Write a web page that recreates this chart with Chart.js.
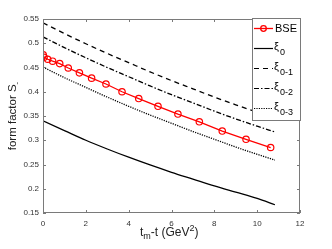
<!DOCTYPE html>
<html>
<head>
<meta charset="UTF-8">
<title>form factor S-</title>
<style>
    body { margin: 0; background: #fff; }
    #wrap { width: 332px; height: 249px; }
</style>
</head>
<body>
<div id="wrap"><canvas id="c" width="332" height="249"></canvas></div>
<script src="https://cdn.jsdelivr.net/npm/chart.js"></script>
<script>
// BSE points
const bseT = [0.01, 0.05, 0.22, 0.45, 0.78, 1.18, 1.70, 2.27, 2.94, 3.69, 4.47, 5.37, 6.30, 7.30, 8.37, 9.48, 10.63];
const bseS = [0.476, 0.471, 0.467, 0.463, 0.458, 0.449, 0.439, 0.428, 0.416, 0.400, 0.386, 0.370, 0.354, 0.338, 0.319, 0.302, 0.285];

// xi curves, read at these t values
const curveT = [0, 1, 2, 3, 4, 5, 6, 7, 8, 9, 10, 10.83];
const xi0   = [0.340, 0.320, 0.300, 0.282, 0.265, 0.249, 0.234, 0.220, 0.206, 0.193, 0.180, 0.167];
const xi01  = [0.542, 0.520, 0.499, 0.479, 0.460, 0.441, 0.423, 0.406, 0.389, 0.373, 0.358, 0.346];
const xi02  = [0.513, 0.491, 0.470, 0.450, 0.431, 0.412, 0.394, 0.377, 0.360, 0.344, 0.329, 0.317];
const xi03  = [0.451, 0.429, 0.409, 0.389, 0.370, 0.352, 0.335, 0.318, 0.302, 0.286, 0.271, 0.259];

const xTicks = [0, 2, 4, 6, 8, 10, 12];
const yTicks = [0.15, 0.2, 0.25, 0.3, 0.35, 0.4, 0.45, 0.5, 0.55];

const pts = (xs, ys) => xs.map((x, i) => ({ x: x, y: ys[i] }));

const legendItems = [
    { main: 'BSE', sub: '', color: '#ff0000', dash: [], marker: true },
    { main: 'ξ', sub: '0', color: '#000', dash: [] },
    { main: 'ξ', sub: '0-1', color: '#000', dash: [5, 4] },
    { main: 'ξ', sub: '0-2', color: '#000', dash: [5, 2, 1.5, 2] },
    { main: 'ξ', sub: '0-3', color: '#000', dash: [1.2, 1.2] }
];

const FONT = 'Liberation Sans, Arial, sans-serif';

const decor = {
    id: 'decor',
    afterDraw(chart) {
        const ctx = chart.ctx;
        const a = chart.chartArea;
        const xs = chart.scales.x, ys = chart.scales.y;
        ctx.save();
        // box
        ctx.strokeStyle = '#7a7a7a';
        ctx.lineWidth = 1;
        ctx.strokeRect(a.left + 0.5, a.top + 0.5, a.right - a.left - 1, a.bottom - a.top - 1);
        // inward ticks
        ctx.beginPath();
        xTicks.forEach(v => {
            const p = Math.round(xs.getPixelForValue(v)) + 0.5;
            ctx.moveTo(p, a.bottom); ctx.lineTo(p, a.bottom - 3);
            ctx.moveTo(p, a.top); ctx.lineTo(p, a.top + 3);
        });
        yTicks.forEach(v => {
            const p = Math.round(ys.getPixelForValue(v)) + 0.5;
            ctx.moveTo(a.left, p); ctx.lineTo(a.left + 3, p);
            ctx.moveTo(a.right, p); ctx.lineTo(a.right - 3, p);
        });
        ctx.stroke();

        // legend
        const lx = 252, ly = 18, lw = 48, lh = 102;
        ctx.fillStyle = '#fff';
        ctx.fillRect(lx, ly, lw, lh);
        ctx.strokeStyle = '#7a7a7a';
        ctx.strokeRect(lx + 0.5, ly + 0.5, lw, lh);
        legendItems.forEach((it, i) => {
            const cy = 28.5 + i * 20;
            ctx.strokeStyle = it.color;
            ctx.lineWidth = it.marker ? 1.3 : 1.2;
            ctx.setLineDash(it.dash);
            ctx.beginPath();
            ctx.moveTo(254, cy); ctx.lineTo(273, cy);
            ctx.stroke();
            ctx.setLineDash([]);
            if (it.marker) {
                ctx.beginPath();
                ctx.arc(263.5, cy, 2.8, 0, Math.PI * 2);
                ctx.stroke();
            }
            ctx.fillStyle = '#000';
            ctx.textBaseline = 'middle';
            ctx.textAlign = 'left';
            if (it.sub) {
                ctx.font = '11px ' + FONT;
                ctx.fillText(it.main, 274, cy - 2);
                ctx.font = '9px ' + FONT;
                ctx.fillText(it.sub, 280, cy + 4);
            } else {
                ctx.font = '11px ' + FONT;
                ctx.fillText(it.main, 275, cy);
            }
        });

        // axis titles
        ctx.fillStyle = '#222';
        ctx.textBaseline = 'alphabetic';
        ctx.font = '12px ' + FONT;
        // x title: t_m-t (GeV^2)
        let x = 140, y = 236;
        ctx.fillText('t', x, y); x += ctx.measureText('t').width;
        ctx.font = '9px ' + FONT;
        ctx.fillText('m', x, y + 3); x += ctx.measureText('m').width;
        ctx.font = '12px ' + FONT;
        ctx.fillText('-t (GeV', x, y); x += ctx.measureText('-t (GeV').width;
        ctx.font = '9px ' + FONT;
        ctx.fillText('2', x, y - 5); x += ctx.measureText('2').width;
        ctx.font = '12px ' + FONT;
        ctx.fillText(')', x, y);

        // y title: form factor S_-
        ctx.translate(16, 116);
        ctx.rotate(-Math.PI / 2);
        ctx.font = '11.5px ' + FONT;
        const main = 'form factor S';
        const w = ctx.measureText(main).width;
        ctx.font = '8px ' + FONT;
        const ws = ctx.measureText('-').width;
        const start = -(w + ws) / 2;
        ctx.font = '11.5px ' + FONT;
        ctx.fillText(main, start, 0);
        ctx.font = '8px ' + FONT;
        ctx.fillText('-', start + w, 3);
        ctx.restore();
    }
};

const lineDs = (label, data, dash) => ({
    label: label,
    data: data,
    borderColor: '#000',
    borderWidth: 1.3,
    borderDash: dash,
    pointRadius: 0,
    showLine: true,
    cubicInterpolationMode: 'monotone'
});

new Chart(document.getElementById('c').getContext('2d'), {
    type: 'scatter',
    data: {
        datasets: [
            lineDs('ξ0', pts(curveT, xi0), []),
            lineDs('ξ0-1', pts(curveT, xi01), [5, 4]),
            lineDs('ξ0-2', pts(curveT, xi02), [5, 2, 1.5, 2]),
            lineDs('ξ0-3', pts(curveT, xi03), [1.2, 1.2]),
            {
                label: 'BSE',
                data: pts(bseT, bseS),
                borderColor: '#ff0000',
                borderWidth: 1.3,
                showLine: true,
                pointRadius: 3.2,
                pointBorderWidth: 1.2,
                pointBackgroundColor: 'rgba(0,0,0,0)',
                pointBorderColor: '#ff0000'
            }
        ]
    },
    options: {
        responsive: false,
        animation: false,
        events: [],
        layout: { padding: { left: 0, right: 32, top: 19, bottom: 0 } },
        plugins: { legend: { display: false }, tooltip: { enabled: false } },
        scales: {
            x: {
                type: 'linear', min: 0, max: 12,
                afterBuildTicks: s => { s.ticks = xTicks.map(v => ({ value: v })); },
                afterFit: s => { s.height = 36; },
                grid: { display: false, drawTicks: false },
                border: { display: false },
                ticks: { padding: 6, color: '#333', font: { size: 8, family: FONT }, maxRotation: 0 }
            },
            y: {
                type: 'linear', min: 0.15, max: 0.55,
                afterBuildTicks: s => { s.ticks = yTicks.map(v => ({ value: v })); },
                afterFit: s => { s.width = 43; },
                grid: { display: false, drawTicks: false },
                border: { display: false },
                ticks: { padding: 4, color: '#333', font: { size: 8, family: FONT },
                    callback: v => String(Math.round(v * 100) / 100) }
            }
        }
    },
    plugins: [decor]
});
</script>
</body>
</html>
